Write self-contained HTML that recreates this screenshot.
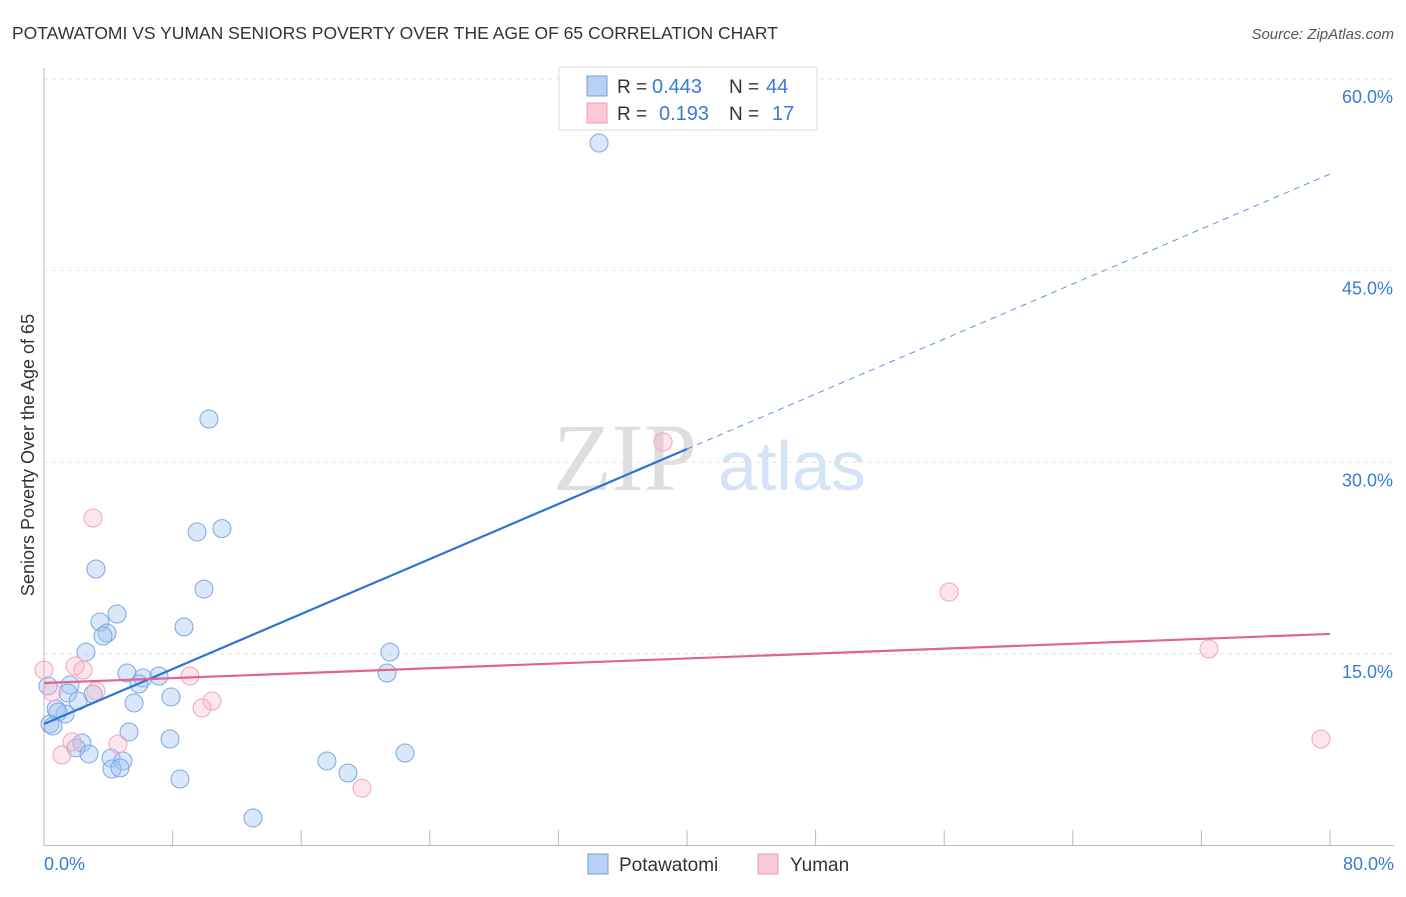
<!DOCTYPE html>
<html><head><meta charset="utf-8"><style>
body{margin:0;background:#fff;font-family:"Liberation Sans",sans-serif;}
svg text{font-family:"Liberation Sans",sans-serif;}
</style></head><body>
<svg id="c" width="1406" height="892" xmlns="http://www.w3.org/2000/svg">
<text x="12" y="39" font-size="17.5" fill="#333">POTAWATOMI VS YUMAN SENIORS POVERTY OVER THE AGE OF 65 CORRELATION CHART</text>
<text x="1394" y="39" font-size="15" fill="#555" font-style="italic" text-anchor="end">Source: ZipAtlas.com</text>
<g>
<text x="553" y="490" font-size="96" fill="#dedede" style="font-family:'Liberation Serif',serif">ZIP</text>
<text x="718" y="490" font-size="70" fill="#d4e3f5">atlas</text>
</g>
<g id="grid"></g><g id="axes"></g><g id="marks"></g>
<text transform="translate(34,455) rotate(-90)" font-size="18" fill="#333" text-anchor="middle">Seniors Poverty Over the Age of 65</text>
<text x="44" y="870" font-size="18" fill="#3a7bd5">0.0%</text>
<text x="1394" y="870" font-size="18" fill="#3a7bd5" text-anchor="end">80.0%</text>
<g>
<rect x="559" y="67" width="258" height="63" fill="#fff" stroke="#ddd"/>
<rect x="587" y="76" width="20" height="20" fill="#b7d1f5" stroke="#6fa0e0"/>
<rect x="587" y="103" width="20" height="20" fill="#fbc8d6" stroke="#f09ab4"/>
<text x="617" y="93" font-size="19" fill="#333">R =</text>
<text x="652" y="93" font-size="20" fill="#3a7bd5">0.443</text>
<text x="729" y="93" font-size="19" fill="#333">N =</text>
<text x="766" y="93" font-size="20" fill="#3a7bd5">44</text>
<text x="617" y="120" font-size="19" fill="#333">R =</text>
<text x="659" y="120" font-size="20" fill="#3a7bd5">0.193</text>
<text x="729" y="120" font-size="19" fill="#333">N =</text>
<text x="772" y="120" font-size="20" fill="#3a7bd5">17</text>
</g>
<g>
<rect x="588" y="854" width="20" height="20" fill="#b7d1f5" stroke="#6fa0e0"/>
<text x="619" y="871" font-size="19" fill="#333">Potawatomi</text>
<rect x="758" y="854" width="20" height="20" fill="#fbc8d6" stroke="#f09ab4"/>
<text x="790" y="871" font-size="19" fill="#333">Yuman</text>
</g>
</svg>
<script>
const yTicks=[15,30,45,60];
const yTickLabels=["15.0%","30.0%","45.0%","60.0%"];
const xTicks=[0,8,16,24,32,40,48,56,64,72,80];
const blueX=[34.53,10.26,11.07,9.52,3.23,9.95,4.54,3.48,3.92,3.67,8.71,2.61,21.52,21.34,5.16,6.16,7.15,5.91,1.62,0.25,1.49,3.05,7.90,5.60,2.12,0.75,1.31,0.87,5.29,0.37,0.56,2.36,1.99,7.84,2.80,22.46,4.17,4.91,4.23,4.73,17.60,18.91,8.46,13.00];
const blueY=[54.98,33.39,24.81,24.55,21.65,20.08,18.13,17.50,16.64,16.41,17.11,15.15,15.15,13.51,13.51,13.12,13.28,12.65,12.57,12.50,11.95,11.87,11.64,11.17,11.32,10.70,10.31,10.46,8.90,9.52,9.37,8.04,7.65,8.35,7.18,7.25,6.86,6.63,6.00,6.08,6.63,5.69,5.22,2.17];
const pinkX=[38.51,3.05,56.30,72.47,0,1.93,2.43,9.08,0.50,3.23,10.45,9.83,1.74,4.60,1.12,79.44,19.78];
const pinkY=[31.59,25.64,19.85,15.39,13.75,14.06,13.75,13.28,12.03,12.11,11.32,10.78,8.12,7.96,7.10,8.35,4.50];
const blueLine=[9.52,52.56];
const blueSolidEnd=40;
const pinkLine=[12.73,16.57];
const NS="http://www.w3.org/2000/svg";
const X=v=>44+v*16.075, Y=v=>845.7-v*12.78;
function mk(p,t,a){const e=document.createElementNS(NS,t);for(const k in a)e.setAttribute(k,a[k]);document.getElementById(p).appendChild(e);return e;}
yTicks.forEach((t,i)=>{
 const g=mk('grid','line',{x1:44,x2:1394,y1:Y(t),y2:Y(t),stroke:'#e2e2e2','stroke-dasharray':'4,4'});
 
 
 const l=mk('grid','text',{x:1393,y:Y(t)+24,'font-size':18,fill:'#3a7bd5','text-anchor':'end'});
 l.textContent=yTickLabels[i];
 
 
});
const ax=mk('axes','line',{x1:44,x2:44,y1:68,y2:846,stroke:'#bbb'});


const bx=mk('axes','line',{x1:44,x2:1394,y1:845.5,y2:845.5,stroke:'#bbb'});


xTicks.forEach(t=>{
 const k=mk('axes','line',{x1:X(t),x2:X(t),y1:830,y2:846,stroke:'#bbb'});
 
 
});
blueX.forEach((x,i)=>{
 const c=mk('marks','circle',{cx:X(x),cy:Y(blueY[i]),r:9,fill:'rgba(160,196,240,0.4)',stroke:'#7aa8e4','stroke-width':1});
 
 
});
pinkX.forEach((x,i)=>{
 const c=mk('marks','circle',{cx:X(x),cy:Y(pinkY[i]),r:9,fill:'rgba(248,180,200,0.35)',stroke:'#f2a4bc','stroke-width':1});
 
 
});
const by=x=>blueLine[0]+(blueLine[1]-blueLine[0])*x/80;
const l1=mk('marks','line',{x1:X(0),y1:Y(by(0)),x2:X(blueSolidEnd),y2:Y(by(blueSolidEnd)),stroke:'#2b73d6','stroke-width':2.2});


const l2=mk('marks','line',{x1:X(blueSolidEnd),y1:Y(by(blueSolidEnd)),x2:X(80),y2:Y(by(80)),stroke:'#5b93e0','stroke-width':1,'stroke-dasharray':'6,5'});


const l3=mk('marks','line',{x1:X(0),y1:Y(pinkLine[0]),x2:X(80),y2:Y(pinkLine[1]),stroke:'#e0648e','stroke-width':2.2});


</script>
</body></html>
